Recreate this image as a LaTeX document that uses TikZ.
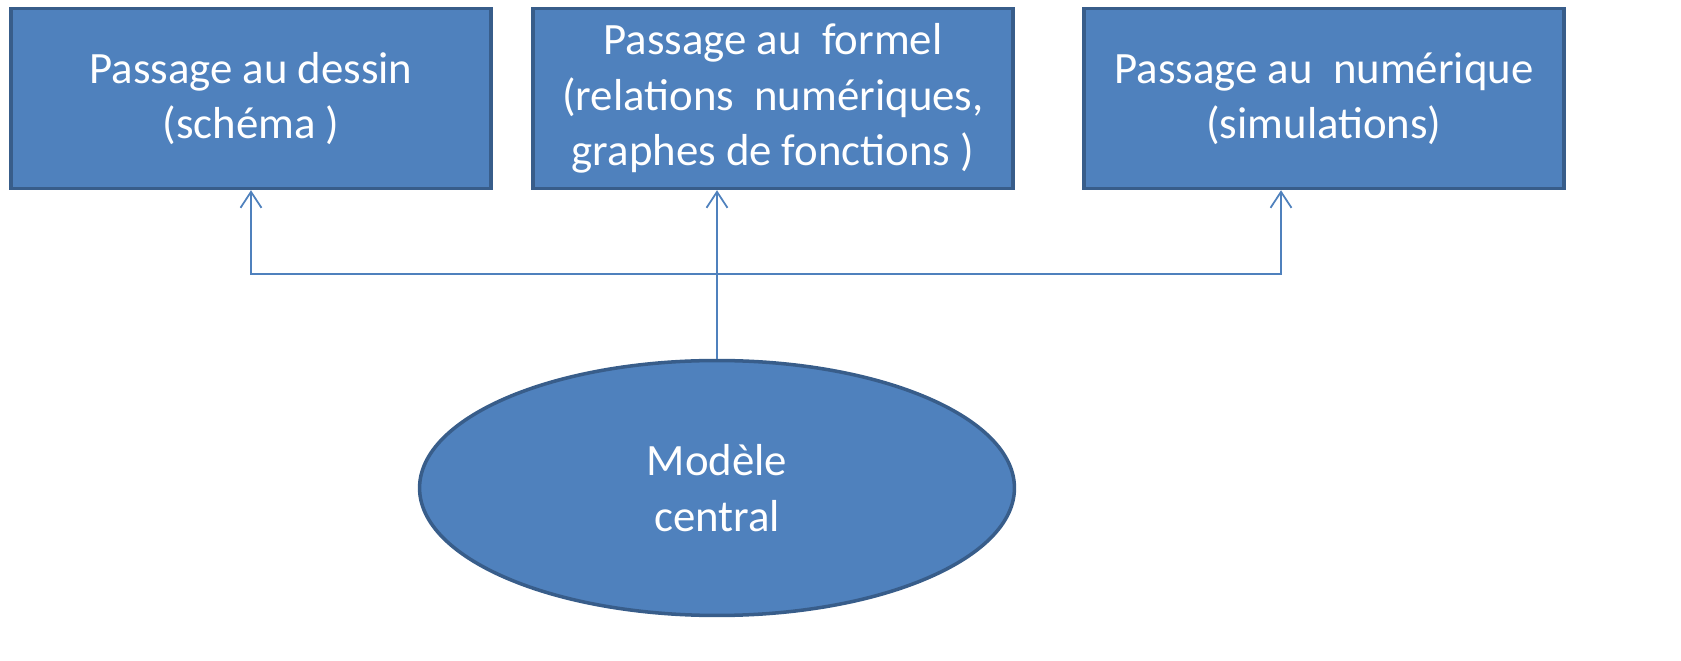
\documentclass[tikz,border=0pt]{standalone}
\usepackage{fontspec}
\setmainfont{Carlito}
\usetikzlibrary{shapes, positioning, arrows.meta, calc}
\definecolor{bleu}{HTML}{4F81BD}
\definecolor{bleufonce}{HTML}{385D8A}

\begin{document}
\begin{tikzpicture}[x=0.02cm, y=-0.02cm,
    passage/.style={draw=bleufonce, line width=2pt, fill=bleu, text=white, align=center,
        minimum width=9.6cm, minimum height=3.6cm, inner sep=0pt,
        font=\fontsize{25.5pt}{31.5pt}\selectfont},
    modele/.style={ellipse, draw=bleufonce, line width=2pt, fill=bleu, text=white, align=center,
        minimum width=11.9cm, minimum height=5.1cm, inner sep=0pt,
        font=\fontsize{25.5pt}{31.5pt}\selectfont},
    lien/.style={draw=bleu, line width=1pt, -{Straight Barb[length=0.32cm, width=0.42cm]}}]
    \useasboundingbox (0,0) rectangle (1681,661);
    % les trois passages
    \node[passage] (dessin) at (251,98.5) {Passage au dessin\\(schéma )};
    \node[passage] (formel) at (773,98.5) {Passage au\ \ formel\\(relations\ \ numériques,\\graphes de fonctions )};
    \node[passage] (numerique) at (1324,98.5) {Passage au\ \ numérique\\(simulations)};
    % modèle central
    \node[modele] (central) at (717,488) {Modèle\\central};
    % liaisons
    \coordinate (jonction) at (717,274);
    \coordinate (droite) at (1281,274);
    \draw[lien] (central.north) -- (central.north |- formel.south);
    \draw[lien] (jonction) -| (dessin.south);
    \draw[lien] (jonction) -- (droite) -- (droite |- numerique.south);
\end{tikzpicture}
\end{document}
